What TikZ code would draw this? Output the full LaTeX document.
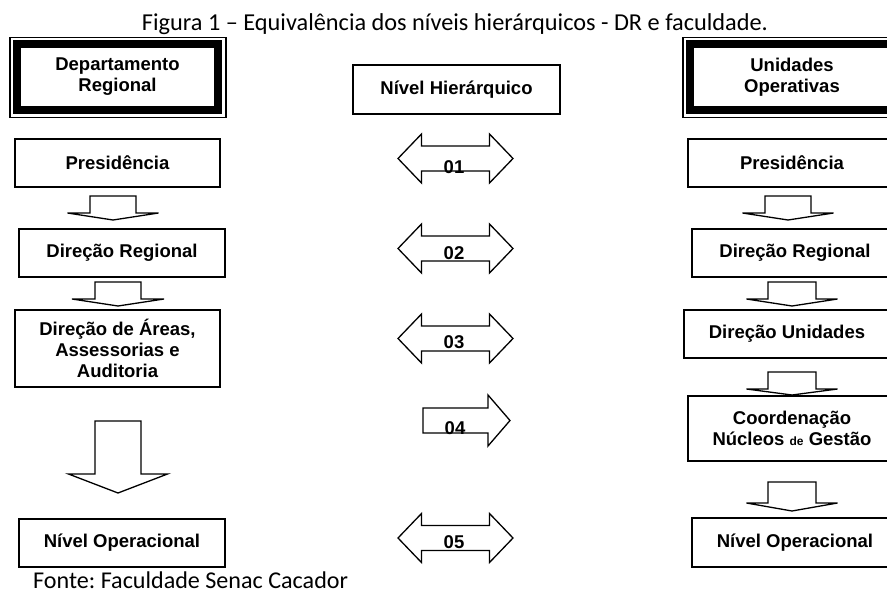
\documentclass[tikz,border=0pt]{standalone}
\usepackage{fontspec}
\setmainfont{Carlito}
\newfontfamily\arialfont{Liberation Sans}
\usetikzlibrary{calc}
\frenchspacing
\newcommand{\boxfont}{\arialfont\bfseries\fontsize{18.5}{21}\selectfont}
\tikzset{
  box/.style={draw, line width=1.3pt, inner sep=0pt, outer sep=0pt, align=center, font=\boxfont},
  headbox/.style={box, line width=7.2pt},
  thinframe/.style={draw, line width=1.3pt},
  blockarrow/.style={draw, line width=1.3pt, line join=miter},
  numlabel/.style={font=\boxfont, inner sep=0pt},
  pics/downarr/.style n args={4}{code={
    \draw[blockarrow] (-#1,0) -- (-#1,#3) -- (-#2,#3) -- (0,#3+#4) -- (#2,#3) -- (#1,#3) -- (#1,0) -- cycle;
  }},
  pics/dblarr/.style={code={
    \draw[blockarrow] (-57.5,0) -- (-34,-24.5) -- (-34,-12.5) -- (34,-12.5) -- (34,-24.5) -- (57.5,0)
      -- (34,24.5) -- (34,12.5) -- (-34,12.5) -- (-34,24.5) -- cycle;
  }}
}
\begin{document}
\begin{tikzpicture}[x=1pt,y=-1pt]
\useasboundingbox (0,0) rectangle (887,592);
\clip (0,0) rectangle (887,592);

% title and source
\node[anchor=base, inner sep=0pt, font=\fontsize{24.3}{27}\selectfont] (title) at (455,30)
  {Figura 1 – Equivalência dos níveis hierárquicos - DR e faculdade.};
\node[anchor=base west, inner sep=0pt, font=\fontsize{24.1}{27}\selectfont] (fonte) at (33,588)
  {Fonte: Faculdade Senac Cacador};

% left column
\node[headbox, minimum width=201pt, minimum height=66pt] (dept) at (117.5,77) {Departamento\\Regional};
\draw[thinframe] ($(dept.north west)+(-7,-6.8)$) rectangle ($(dept.south east)+(8,7.3)$);
\node[box, minimum width=205pt, minimum height=48pt] (presL) at (117.5,163) {Presidência};
\node[box, minimum width=206pt, minimum height=48pt] (dregL) at (122,253) {Direção Regional};
\node[box, minimum width=205pt, minimum height=77pt] (dareas) at (117.5,348.5) {Direção de Áreas,\\Assessorias e\\Auditoria};
\node[box, minimum width=206pt, minimum height=48pt] (nopL) at (122,543) {Nível Operacional};

\pic at (113,196) {downarr={23}{45.5}{17}{7}};
\pic at (118,282) {downarr={23}{46}{17}{7}};
\pic at (118,421) {downarr={23}{49.5}{53}{19}};

% middle column
\node[box, minimum width=207pt, minimum height=49pt] (nh) at (456.5,89.5) {Nível Hierárquico};
\pic at (455.5,158.5) {dblarr};
\pic at (455.5,248.5) {dblarr};
\pic at (455.5,338.5) {dblarr};
\draw[blockarrow] (423,408) -- (488,408) -- (488,395) -- (510,420.5) -- (488,446) -- (488,433) -- (423,433) -- cycle;
\pic at (455.5,538) {dblarr};
\node[numlabel] (n1) at (454,167) {01};
\node[numlabel] (n2) at (454,253) {02};
\node[numlabel] (n3) at (454,342) {03};
\node[numlabel] (n4) at (455,428) {04};
\node[numlabel] (n5) at (454,542) {05};

% right column
\node[headbox, minimum width=204pt, minimum height=66pt] (unid) at (792,77) {Unidades\\Operativas};
\draw[thinframe] ($(unid.north west)+(-7,-6.8)$) rectangle ($(unid.south east)+(8,7.3)$);
\node[box, minimum width=208pt, minimum height=48pt] (presR) at (792,163) {Presidência};
\node[box, minimum width=206pt, minimum height=48pt] (dregR) at (795,253) {Direção Regional};
\node[box, minimum width=206pt, minimum height=48pt] (dun) at (787,334) {Direção Unidades};
\node[box, minimum width=208pt, minimum height=65pt] (coord) at (792,428.5)
  {Coordenação\\Núcleos {\fontsize{12}{14}\selectfont de} Gestão};
\node[box, minimum width=206pt, minimum height=49pt] (nopR) at (795,542.5) {Nível Operacional};

\pic at (788,196) {downarr={23}{45.5}{17}{7}};
\pic at (792,282) {downarr={24}{45.5}{17}{7}};
\pic at (792,372) {downarr={24}{45.5}{17}{6}};
\pic at (792,482) {downarr={24}{45.5}{21}{8}};
\end{tikzpicture}
\end{document}
